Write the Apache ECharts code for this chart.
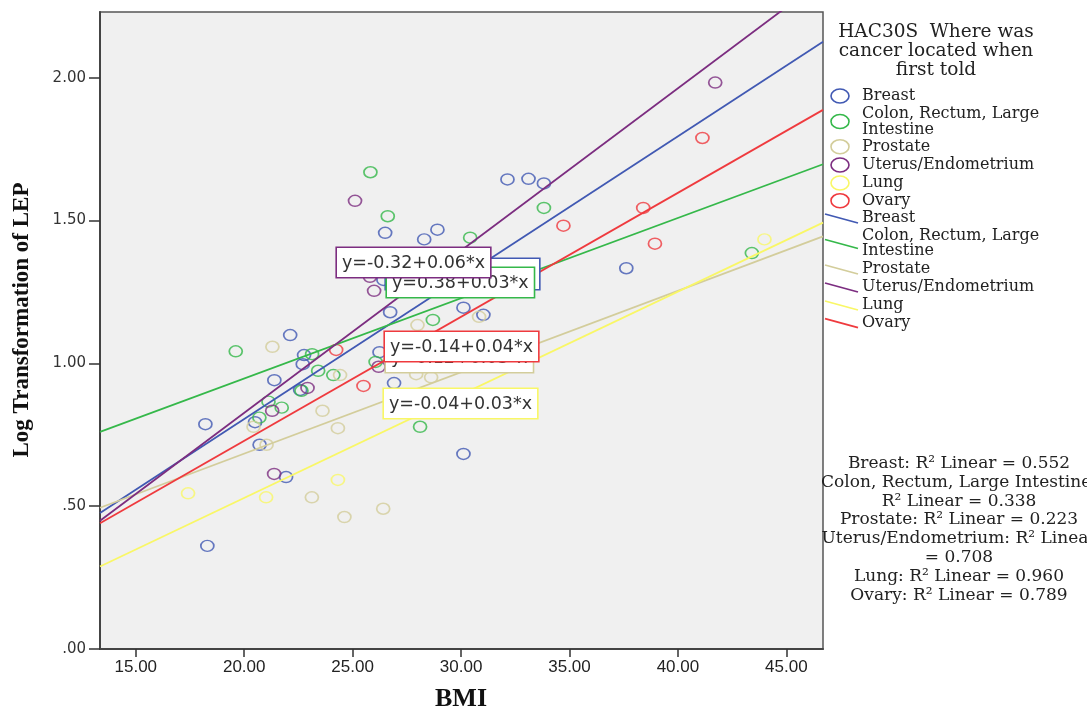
<!DOCTYPE html>
<html>
<head>
<meta charset="utf-8">
<script src="https://cdn.jsdelivr.net/npm/echarts@6/dist/echarts.min.js"></script>
<style>
  html, body { margin: 0; padding: 0; background: #ffffff; }
  #chart { width: 1087px; height: 711px; }
</style>
</head>
<body>
<div id="chart"></div>
<script>
// BMI vs log-transformed leptin, grouped by first cancer site, with linear fits
const groupNames = ['Breast', 'Colon, Rectum, Large Intestine', 'Prostate', 'Uterus/Endometrium', 'Lung', 'Ovary'];
const legendLabels = [['Breast'], ['Colon, Rectum, Large', 'Intestine'], ['Prostate'], ['Uterus/Endometrium'], ['Lung'], ['Ovary']];
const groupColors = ['#4159b3', '#35b84a', '#d3cd9b', '#7c2d80', '#f9f766', '#ef3a3e'];

// [BMI, log LEP]
const breastPts = [[26.50,1.457],[28.30,1.434],[28.91,1.468],[26.42,1.292],[26.73,1.179],[30.11,1.195],[31.03,1.170],[32.14,1.644],[33.11,1.646],[33.82,1.630],[37.62,1.333],[22.12,1.099],[22.76,1.029],[22.70,0.997],[21.39,0.941],[22.58,0.907],[26.24,1.039],[26.91,0.931],[18.21,0.787],[20.50,0.794],[20.71,0.715],[21.93,0.602],[18.30,0.361],[30.11,0.683]];
const colonPts = [[25.82,1.669],[26.62,1.515],[33.82,1.544],[30.42,1.440],[43.41,1.386],[28.70,1.152],[19.61,1.042],[23.13,1.032],[23.41,0.974],[24.11,0.959],[22.64,0.904],[26.06,1.005],[21.12,0.866],[21.73,0.845],[20.70,0.810],[28.11,0.778]];
const prostatePts = [[27.99,1.134],[30.83,1.163],[21.30,1.058],[24.42,0.959],[27.93,0.962],[28.62,0.951],[23.61,0.834],[20.43,0.778],[24.32,0.773],[21.03,0.715],[23.12,0.531],[24.62,0.462],[26.41,0.491]];
const uterusPts = [[25.11,1.569],[25.80,1.303],[25.99,1.254],[41.72,1.983],[22.92,0.914],[26.20,0.988],[21.29,0.834],[21.38,0.613]];
const lungPts = [[17.41,0.545],[21.01,0.531],[24.32,0.592],[43.99,1.434]];
const ovaryPts = [[41.13,1.789],[34.72,1.482],[38.40,1.544],[38.94,1.419],[24.24,1.047],[25.50,0.921]];
const groupPoints = [breastPts, colonPts, prostatePts, uterusPts, lungPts, ovaryPts];

// Linear fit per group: y = intercept + slope * x
const fitIntercept = [-0.185, 0.385, 0.114, -0.309, -0.193, -0.139];
const fitSlope = [0.0495, 0.0281, 0.0285, 0.0568, 0.0361, 0.0434];
const fitLabels = ['y=-0.18+0.05*x', 'y=0.38+0.03*x', 'y=0.12+0.03*x', 'y=-0.32+0.06*x', 'y=-0.04+0.03*x', 'y=-0.14+0.04*x'];
const r2Lines = [
  'Breast: R\u00b2 Linear = 0.552',
  'Colon, Rectum, Large Intestine:',
  'R\u00b2 Linear = 0.338',
  'Prostate: R\u00b2 Linear = 0.223',
  'Uterus/Endometrium: R\u00b2 Linear',
  '= 0.708',
  'Lung: R\u00b2 Linear = 0.960',
  'Ovary: R\u00b2 Linear = 0.789'
];
const legendTitle = ['HAC30S  Where was', 'cancer located when', 'first told'];

const xTicks = [15, 20, 25, 30, 35, 40, 45];
const xTickLabels = ['15.00', '20.00', '25.00', '30.00', '35.00', '40.00', '45.00'];
const yTicks = [0, 0.5, 1, 1.5, 2];
const yTickLabels = ['.00', '.50', '1.00', '1.50', '2.00'];
const xMin = 13.35, xMax = 46.69, yMin = 0, yMax = 2.23;

const chart = echarts.init(document.getElementById('chart'), null, { renderer: 'canvas' });

const series = [];
groupNames.forEach((name, i) => {
  series.push({
    name: name,
    type: 'scatter',
    data: groupPoints[i],
    symbol: 'circle',
    symbolSize: [13, 11],
    itemStyle: { color: 'rgba(0,0,0,0)', borderColor: groupColors[i], borderWidth: 1.6 },
    emphasis: { disabled: true },
    z: 3
  });
});
groupNames.forEach((name, i) => {
  series.push({
    name: name + ' fit',
    type: 'line',
    data: [[xMin, fitIntercept[i] + fitSlope[i] * xMin], [xMax, fitIntercept[i] + fitSlope[i] * xMax]],
    symbol: 'none',
    lineStyle: { color: groupColors[i], width: 1.8 },
    clip: true,
    silent: true,
    z: 4
  });
});

// Legend, equation boxes and R² notes
const graphics = [];
const legendFont = '16px "DejaVu Serif"';
legendTitle.forEach((t, k) => {
  graphics.push({ type: 'text', x: 936, y: 32.5 + k * 19, z: 10,
    style: { text: t, font: '18.5px "DejaVu Serif"', fill: '#222', textAlign: 'center', textVerticalAlign: 'middle' } });
});
const markerRows = [96, 121.5, 146.7, 165, 183, 200.7];
const markerTextRows = [[96], [114, 129.5], [146.7], [165], [183], [200.7]];
const lineRows = [218, 243.5, 269, 287, 305, 322.7];
const lineTextRows = [[218], [236, 251], [269], [287], [305], [322.7]];
legendLabels.forEach((lines, i) => {
  graphics.push({ type: 'ellipse', shape: { cx: 840, cy: markerRows[i], rx: 9, ry: 7 }, z: 10,
    style: { fill: 'none', stroke: groupColors[i], lineWidth: 1.6 } });
  lines.forEach((t, k) => {
    graphics.push({ type: 'text', x: 862, y: markerTextRows[i][k], z: 10,
      style: { text: t, font: legendFont, fill: '#222', textAlign: 'left', textVerticalAlign: 'middle' } });
  });
  graphics.push({ type: 'line', shape: { x1: 825, y1: lineRows[i] - 4, x2: 858, y2: lineRows[i] + 5 }, z: 10,
    style: { stroke: groupColors[i], lineWidth: 1.8 } });
  lines.forEach((t, k) => {
    graphics.push({ type: 'text', x: 862, y: lineTextRows[i][k], z: 10,
      style: { text: t, font: legendFont, fill: '#222', textAlign: 'left', textVerticalAlign: 'middle' } });
  });
});

// Equation boxes: [left, top] and padding, in draw order
const eqBoxPos = [[386, 259], [387, 268], [386, 343], [337, 248], [384, 389], [385, 332]];
const eqBoxPad = [[10, 5, 0, 5], [5, 5, 4, 5], [5, 5, 4, 5], [5, 5, 4, 5], [5, 5, 4, 5], [5, 5, 4, 5]];
fitLabels.forEach((t, i) => {
  graphics.push({ type: 'text', x: eqBoxPos[i][0], y: eqBoxPos[i][1], z: 20 + i,
    style: { text: t, font: '17.5px "DejaVu Sans"', fill: '#333', textAlign: 'left', textVerticalAlign: 'top',
      backgroundColor: '#ffffff', borderColor: groupColors[i], borderWidth: 1.6,
      padding: eqBoxPad[i], lineHeight: 20 } });
});

r2Lines.forEach((t, k) => {
  graphics.push({ type: 'text', x: 959, y: 463.5 + k * 18.8, z: 10,
    style: { text: t, font: '17px "DejaVu Serif"', fill: '#222', textAlign: 'center', textVerticalAlign: 'middle' } });
});

// Axis titles
graphics.push({ type: 'text', x: 22, y: 320, rotation: Math.PI / 2, z: 10,
  style: { text: 'Log Transformation of LEP', font: 'bold 23px "Liberation Serif"', fill: '#111', textAlign: 'center', textVerticalAlign: 'middle' } });
graphics.push({ type: 'text', x: 461, y: 699, z: 10,
  style: { text: 'BMI', font: 'bold 26px "Liberation Serif"', fill: '#111', textAlign: 'center', textVerticalAlign: 'middle' } });

chart.setOption({
  backgroundColor: '#ffffff',
  animation: false,
  grid: {
    left: 100, right: 264, top: 12, bottom: 62,
    show: true, backgroundColor: '#f0f0f0', borderColor: '#555', borderWidth: 1.5
  },
  xAxis: {
    type: 'value', min: xMin, max: xMax,
    splitLine: { show: false },
    axisLine: { show: true, onZero: false, lineStyle: { color: '#444', width: 2 } },
    axisTick: { show: true, length: 8, customValues: xTicks, lineStyle: { color: '#333', width: 1.5 } },
    axisLabel: {
      customValues: xTicks, margin: 10, color: '#222',
      fontFamily: 'Liberation Sans', fontSize: 17,
      formatter: v => xTickLabels[xTicks.indexOf(v)]
    }
  },
  yAxis: {
    type: 'value', min: yMin, max: yMax,
    splitLine: { show: false },
    axisLine: { show: true, onZero: false, lineStyle: { color: '#444', width: 2 } },
    axisTick: { show: true, length: 11, customValues: yTicks, lineStyle: { color: '#333', width: 1.5 } },
    axisLabel: {
      customValues: yTicks, margin: 14, color: '#333',
      fontFamily: 'DejaVu Sans', fontSize: 15,
      formatter: v => yTickLabels[yTicks.indexOf(v)]
    }
  },
  series: series,
  graphic: graphics
});
</script>
</body>
</html>
